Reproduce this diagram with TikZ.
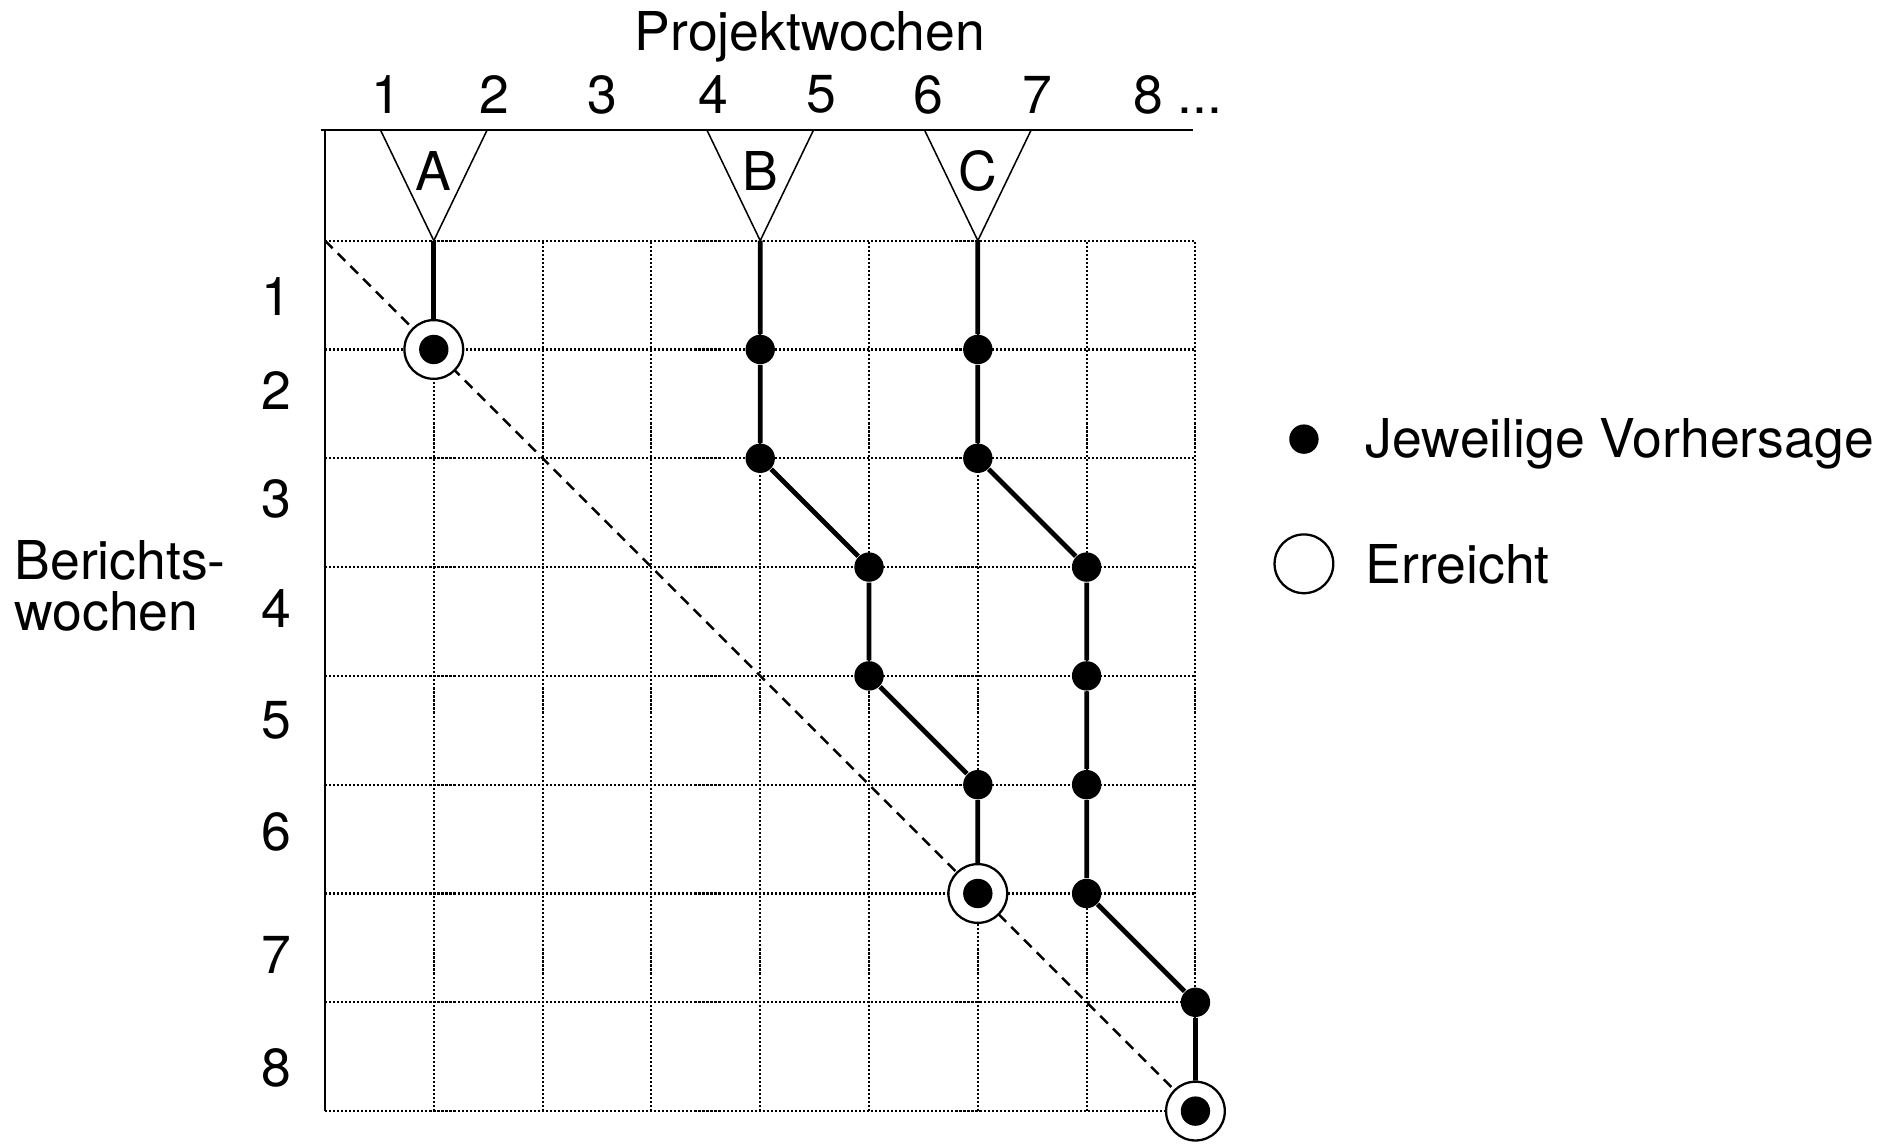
\documentclass[tikz,border=0pt]{standalone}
\usepackage{fontspec}
\setmainfont{TeX Gyre Heros}
\usetikzlibrary{positioning}

\begin{document}
\begin{tikzpicture}[
    font=\fontsize{14}{16}\selectfont,
    gridline/.style={line width=0.55pt, dash pattern=on 0.55pt off 0.5pt},
    track/.style={line width=1.25pt},
    forecast/.style={circle, fill, inner sep=0pt, minimum size=0.27cm},
    reached/.style={circle, draw, fill=white, line width=0.6pt, inner sep=0pt, minimum size=0.54cm},
    milestone/.style={draw, line width=0.4pt, line join=miter}
]
    \useasboundingbox (-2.987,-8.321) rectangle (14.494,2.212);

    % Grid, axes and diagonal
    \draw[gridline] (0,0) grid (8,-8);
    \draw[line width=0.7pt] (-0.04,1.017) -- (7.98,1.017);
    \draw[line width=0.55pt] (0,1.017) -- (0,-8);
    \coordinate (o) at (0,0);
    \coordinate (e) at (8,-8);
    \draw[line width=0.65pt, dash pattern=on 2.8pt off 1.9pt] (o) -- (e);

    % Milestones
    \draw[milestone] (0.51,1.017) -- (1.49,1.017) -- (1,0) -- cycle;
    \draw[milestone] (3.51,1.017) -- (4.49,1.017) -- (4,0) -- cycle;
    \draw[milestone] (5.51,1.017) -- (6.49,1.017) -- (6,0) -- cycle;
    \coordinate (ta) at (1,0);
    \coordinate (tb) at (4,0);
    \coordinate (tc) at (6,0);
    \node (la) at (1,0.636) {A};
    \node (lb) at (4,0.636) {B};
    \node (lc) at (6,0.636) {C};

    % Milestone A
    \node[reached] (ra) at (1,-1) {};
    \node[forecast] (a1) at (ra) {};
    \draw[track] (ta) -- (ra);

    % Milestone B
    \node[forecast] (b1) at (4,-1) {};
    \node[forecast] (b2) at (4,-2) {};
    \node[forecast] (b3) at (5,-3) {};
    \node[forecast] (b4) at (5,-4) {};
    \node[forecast] (b5) at (6,-5) {};
    \node[reached] (rb) at (6,-6) {};
    \node[forecast] (b6) at (rb) {};
    \draw[track] (tb) -- (b1) -- (b2) -- (b3) -- (b4) -- (b5) -- (rb);

    % Milestone C
    \node[forecast] (c1) at (6,-1) {};
    \node[forecast] (c2) at (6,-2) {};
    \node[forecast] (c3) at (7,-3) {};
    \node[forecast] (c4) at (7,-4) {};
    \node[forecast] (c5) at (7,-5) {};
    \node[forecast] (c6) at (7,-6) {};
    \node[forecast] (c7) at (8,-7) {};
    \node[reached] (rc) at (8,-8) {};
    \node[forecast] (c8) at (rc) {};
    \draw[track] (tc) -- (c1) -- (c2) -- (c3) -- (c4) -- (c5) -- (c6) -- (c7) -- (rc);

    % Project weeks
    \node[anchor=base] (proj) at (4.458,1.744) {Projektwochen};
    \node (p1) at (0.56,1.343) {1};
    \node (p2) at (1.56,1.343) {2};
    \node (p3) at (2.55,1.343) {3};
    \node (p4) at (3.57,1.343) {4};
    \node (p5) at (4.56,1.343) {5};
    \node (p6) at (5.55,1.343) {6};
    \node (p7) at (6.55,1.343) {7};
    \node[anchor=west, inner sep=0pt] (p8) at (7.42,1.343) {8 ...};

    % Report weeks
    \node[anchor=base west, inner sep=0pt] (rw1) at (-2.86,-3.118) {Berichts-};
    \node[anchor=base west, inner sep=0pt] (rw2) at (-2.86,-3.585) {wochen};
    \node (r1) at (-0.445,-0.51) {1};
    \node (r2) at (-0.445,-1.38) {2};
    \node (r3) at (-0.445,-2.37) {3};
    \node (r4) at (-0.445,-3.38) {4};
    \node (r5) at (-0.445,-4.41) {5};
    \node (r6) at (-0.445,-5.43) {6};
    \node (r7) at (-0.445,-6.56) {7};
    \node (r8) at (-0.445,-7.60) {8};

    % Legend
    \node[forecast] (lf) at (8.997,-1.824) {};
    \node[anchor=base west, inner sep=0pt] (lft) at (9.56,-1.99) {Jeweilige Vorhersage};
    \node[reached] (lr) at (8.997,-2.97) {};
    \node[anchor=base west, inner sep=0pt] (lrt) at (9.56,-3.15) {Erreicht};
\end{tikzpicture}
\end{document}
